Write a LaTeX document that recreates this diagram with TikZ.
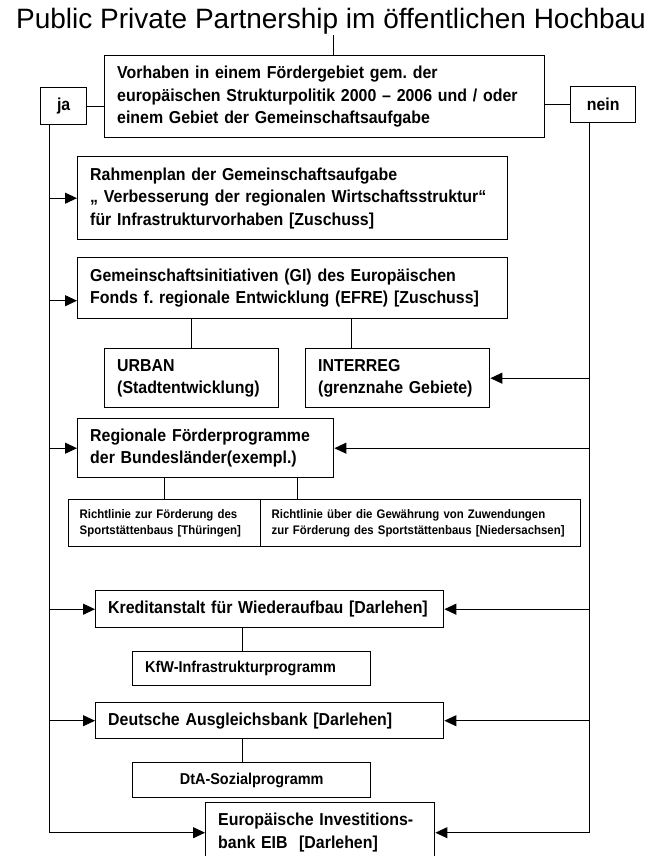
\documentclass[tikz,border=0pt]{standalone}
\usepackage{fontspec}
\setmainfont{Liberation Sans}
\newfontfamily\narrow{Liberation Sans}[FakeStretch=0.92]
\frenchspacing
\usepackage{tikz}
\usetikzlibrary{arrows.meta,positioning}

\begin{document}
\begin{tikzpicture}[x=1pt,y=-1pt,line width=1pt,>={Triangle[length=12pt,width=11pt]}]
  \tikzstyle{every node}=[inner ysep=0pt]
  \tikzstyle{box}=[draw,line width=1.4pt,anchor=north west,align=left,inner xsep=12.5pt,font=\narrow\bfseries\fontsize{17.3}{22.5}\selectfont]
  \tikzstyle{small box}=[box,font=\narrow\bfseries\fontsize{15.7}{18}\selectfont]
  \tikzstyle{rl box}=[box,inner xsep=11pt,font=\narrow\bfseries\fontsize{12.4}{16}\selectfont]
  \useasboundingbox (0,0) rectangle (656,856);
  \node[font=\fontsize{28}{30}\selectfont,anchor=base] (title) at (331,29) {Public Private Partnership im öffentlichen Hochbau};
  \node[box,text width=415pt,minimum height=82pt] (vorhaben) at (104,55) {Vorhaben in einem Fördergebiet gem. der\\europäischen Strukturpolitik 2000 – 2006 und / oder\\einem Gebiet der Gemeinschaftsaufgabe};
  \node[box,inner xsep=0pt,align=center,minimum width=46pt,minimum height=37pt] (ja) at (40,87) {ja};
  \node[box,inner xsep=0pt,align=center,minimum width=65pt,minimum height=36pt] (nein) at (570,86) {nein};
  \node[box,text width=405pt,minimum height=83pt] (rahmen) at (77,156) {Rahmenplan der Gemeinschaftsaufgabe\\„ Verbesserung der regionalen Wirtschaftsstruktur“\\für Infrastrukturvorhaben [Zuschuss]};
  \node[box,text width=405pt,minimum height=61pt] (gi) at (77,257) {Gemeinschaftsinitiativen (GI) des Europäischen\\Fonds f. regionale Entwicklung (EFRE) [Zuschuss]};
  \node[box,text width=149pt,minimum height=59pt] (urban) at (104,348) {URBAN\\(Stadtentwicklung)};
  \node[box,text width=159pt,minimum height=59pt] (interreg) at (305,348) {INTERREG\\(grenznahe Gebiete)};
  \node[box,text width=231pt,minimum height=59pt] (regio) at (77,418) {Regionale Förderprogramme\\der Bundesländer(exempl.)};
  \node[rl box,text width=170pt,minimum height=47pt] (rl_th) at (68,499) {Richtlinie zur Förderung des\\Sportstättenbaus [Thüringen]};
  \node[rl box,text width=298pt,minimum height=47pt] (rl_ni) at (260,499) {Richtlinie über die Gewährung von Zuwendungen\\zur Förderung des Sportstättenbaus [Niedersachsen]};
  \node[box,text width=323pt,minimum height=37pt] (kfw) at (95,590) {Kreditanstalt für Wiederaufbau [Darlehen]};
  \node[small box,text width=213pt,minimum height=34pt] (kfw_prog) at (132,651) {KfW-Infrastrukturprogramm};
  \node[box,text width=323pt,minimum height=36pt] (dta) at (95,702) {Deutsche Ausgleichsbank [Darlehen]};
  \node[small box,align=center,text width=213pt,minimum height=35pt] (dta_prog) at (132,762) {DtA-Sozialprogramm};
  \node[box,text width=204pt,minimum height=60pt] (eib) at (205,802) {Europäische Investitions-\\bank EIB~ [Darlehen]};

  \coordinate (stem) at (333,35);
  \coordinate (lt) at (49,124);
  \coordinate (rt) at (589,122);
  \coordinate (gi_in) at ([yshift=-12.5pt]gi.west);
  \coordinate (inter_up) at ([xshift=-46pt]interreg.north);
  \coordinate (ni_up) at ([xshift=-37pt]regio.south east);
  \coordinate (kfw_up) at ([xshift=-9pt]kfw_prog.north);
  \coordinate (dta_up) at ([xshift=-9pt]dta_prog.north);

  \draw (stem) -- (stem |- vorhaben.north);
  \draw (ja.east) -- (ja.east -| vorhaben.west);
  \draw (vorhaben.east |- nein.west) -- (nein.west);
  \draw[->] (lt) |- (eib.west);
  \draw[->] (rt) |- (eib.east);
  \path[->]
  (lt |- rahmen.west) edge (rahmen.west)
  (lt |- gi_in) edge (gi_in)
  (lt |- regio.west) edge (regio.west)
  (lt |- kfw.west) edge (kfw.west)
  (lt |- dta.west) edge (dta.west)
  (rt |- interreg.east) edge (interreg.east)
  (rt |- regio.east) edge (regio.east)
  (rt |- kfw.east) edge (kfw.east)
  (rt |- dta.east) edge (dta.east)
  ;
  \draw (urban.north |- gi.south) -- (urban.north);
  \draw (inter_up |- gi.south) -- (inter_up);
  \draw (rl_th.north |- regio.south) -- (rl_th.north);
  \draw (ni_up) -- (ni_up |- rl_ni.north);
  \draw (kfw_up |- kfw.south) -- (kfw_up);
  \draw (dta_up |- dta.south) -- (dta_up);
\end{tikzpicture}
\end{document}
